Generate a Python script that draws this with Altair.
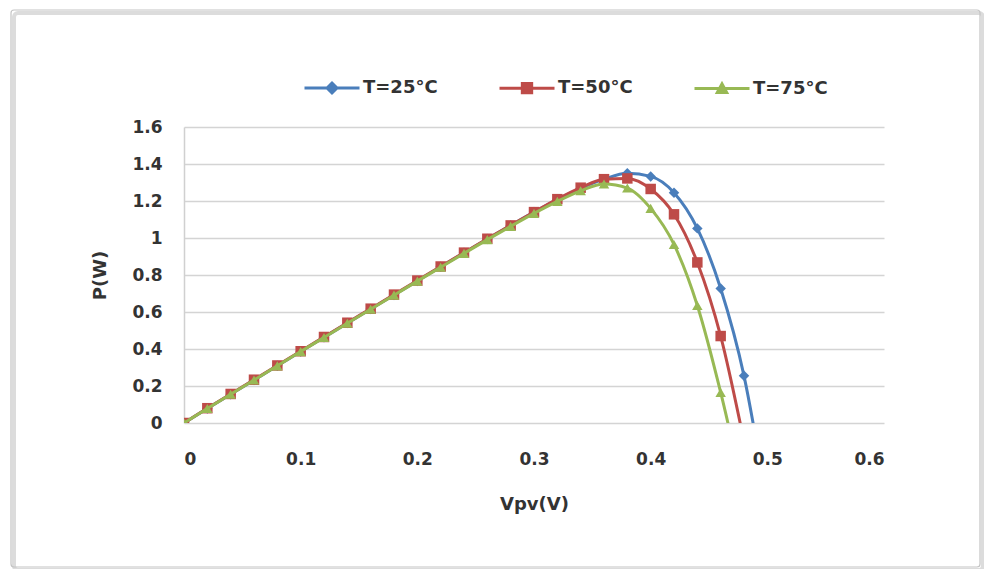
import altair as alt
import pandas as pd

# ---- data ----
series = ["T=25°C", "T=50°C", "T=75°C"]
colors = ["#4A7EBB", "#BE4B48", "#98B954"]
marker_shapes = ["diamond", "square", "triangle-up"]

V25 = [0.00, 0.02, 0.04, 0.06, 0.08, 0.10, 0.12, 0.14, 0.16, 0.18, 0.20, 0.22, 0.24,
       0.26, 0.28, 0.30, 0.32, 0.34, 0.36, 0.38, 0.40, 0.42, 0.44, 0.46, 0.48, 0.50]
P25 = [0.000, 0.078, 0.155, 0.232, 0.309, 0.386, 0.463, 0.540, 0.616, 0.692, 0.768, 0.844, 0.920,
       0.995, 1.068, 1.140, 1.208, 1.268, 1.318, 1.350, 1.333, 1.245, 1.052, 0.727, 0.255, -0.450]

V50 = [0.00, 0.02, 0.04, 0.06, 0.08, 0.10, 0.12, 0.14, 0.16, 0.18, 0.20, 0.22, 0.24,
       0.26, 0.28, 0.30, 0.32, 0.34, 0.36, 0.38, 0.40, 0.42, 0.44, 0.46, 0.48]
P50 = [0.000, 0.080, 0.157, 0.234, 0.311, 0.388, 0.465, 0.542, 0.618, 0.694, 0.770, 0.846, 0.921,
       0.996, 1.068, 1.140, 1.210, 1.272, 1.318, 1.322, 1.265, 1.128, 0.868, 0.470, -0.100]

V75 = [0.00, 0.02, 0.04, 0.06, 0.08, 0.10, 0.12, 0.14, 0.16, 0.18, 0.20, 0.22, 0.24,
       0.26, 0.28, 0.30, 0.32, 0.34, 0.36, 0.38, 0.40, 0.42, 0.44, 0.46, 0.48]
P75 = [0.000, 0.078, 0.155, 0.232, 0.309, 0.386, 0.462, 0.539, 0.615, 0.691, 0.767, 0.842, 0.917,
       0.991, 1.063, 1.133, 1.198, 1.255, 1.292, 1.270, 1.160, 0.965, 0.635, 0.165, -0.385]

y_ticks = [0, 0.2, 0.4, 0.6, 0.8, 1.0, 1.2, 1.4, 1.6]
x_ticks = [0, 0.1, 0.2, 0.3, 0.4, 0.5, 0.6]

FONT = "DejaVu Sans"
TXT = "#333333"

# legend symbols: a line with the series marker in the middle
leg_paths = [
    "M-1,0L1,0M-0.18,0L0,-0.18L0.18,0L0,0.18Z",
    "M-1,0L1,0M-0.17,-0.17h0.34v0.34h-0.34Z",
    "M-1,0L1,0M-0.17,0.14L0,-0.17L0.17,0.14Z",
]

xenc = alt.X("V:Q", scale=alt.Scale(domain=[0, 0.6], nice=False),
             axis=alt.Axis(values=x_ticks, format=".1~f", grid=False, domain=False, ticks=False,
                           labelPadding=28, title="Vpv(V)", titlePadding=28))
yenc = alt.Y("P:Q", scale=alt.Scale(domain=[0, 1.6], nice=False),
             axis=alt.Axis(values=y_ticks, format=".1~f", grid=True, ticks=False,
                           domainColor="#d0d0d0", domainWidth=1.5,
                           labelPadding=22, title="P(W)", titlePadding=22))

# one line + marker layer per series, drawn in series order (like the original)
layers = []
for name, col, shp, vs, ps in zip(series, colors, marker_shapes, [V25, V50, V75], [P25, P50, P75]):
    d = pd.DataFrame({"V": vs, "P": ps, "T": name})
    base = alt.Chart(d).encode(x=xenc, y=yenc)
    layers.append(base.mark_line(strokeWidth=3, interpolate="monotone", clip=True, color=col))
    layers.append(base.mark_point(filled=True, opacity=1, size=110, clip=True, color=col, shape=shp))

# legend carrier: its own points are placed outside the clipped plot area
leg_df = pd.DataFrame({"T": series})
legend_layer = alt.Chart(leg_df).mark_point(filled=True, opacity=1, clip=True).encode(
    x=alt.value(-400), y=alt.value(-400),
    fill=alt.Fill("T:N", scale=alt.Scale(domain=series, range=colors), title=None,
                  legend=alt.Legend(orient="none", legendX=119, legendY=-68, direction="horizontal",
                                    symbolSize=3025, symbolStrokeWidth=3, symbolOpacity=1,
                                    labelFont=FONT, labelFontSize=18, labelFontWeight="bold",
                                    labelColor=TXT, labelOffset=2, columnPadding=55)),
    stroke=alt.Stroke("T:N", scale=alt.Scale(domain=series, range=colors), title=None),
    shape=alt.Shape("T:N", scale=alt.Scale(domain=series, range=leg_paths), title=None),
)

frame_df = pd.DataFrame({"k": [0]})
shadow = alt.Chart(frame_df).mark_rect(fill=None, stroke="#dcdcdc", strokeWidth=4, cornerRadius=4).encode(
    x=alt.value(-170), x2=alt.value(799), y=alt.value(-114), y2=alt.value(443))
frame = alt.Chart(frame_df).mark_rect(fill=None, stroke="#c4c4c4", strokeWidth=1.2, cornerRadius=3).encode(
    x=alt.value(-173), x2=alt.value(796), y=alt.value(-117), y2=alt.value(440))

chart = alt.layer(shadow, frame, *layers, legend_layer).resolve_scale(
    shape="independent", fill="independent", stroke="independent"
).properties(
    width=700, height=296,
    autosize=alt.AutoSizeParams(type="none"),
    padding={"left": 176, "top": 119, "right": 100, "bottom": 146},
).configure_view(stroke=None).configure_axis(
    labelFont=FONT, labelFontSize=17, labelFontWeight="bold", labelColor=TXT,
    titleFont=FONT, titleFontSize=18, titleFontWeight="bold", titleColor=TXT,
    gridColor="#d4d4d4", gridWidth=1.6,
)

chart.save("out.html", embed_options={"renderer": "svg", "actions": False})
